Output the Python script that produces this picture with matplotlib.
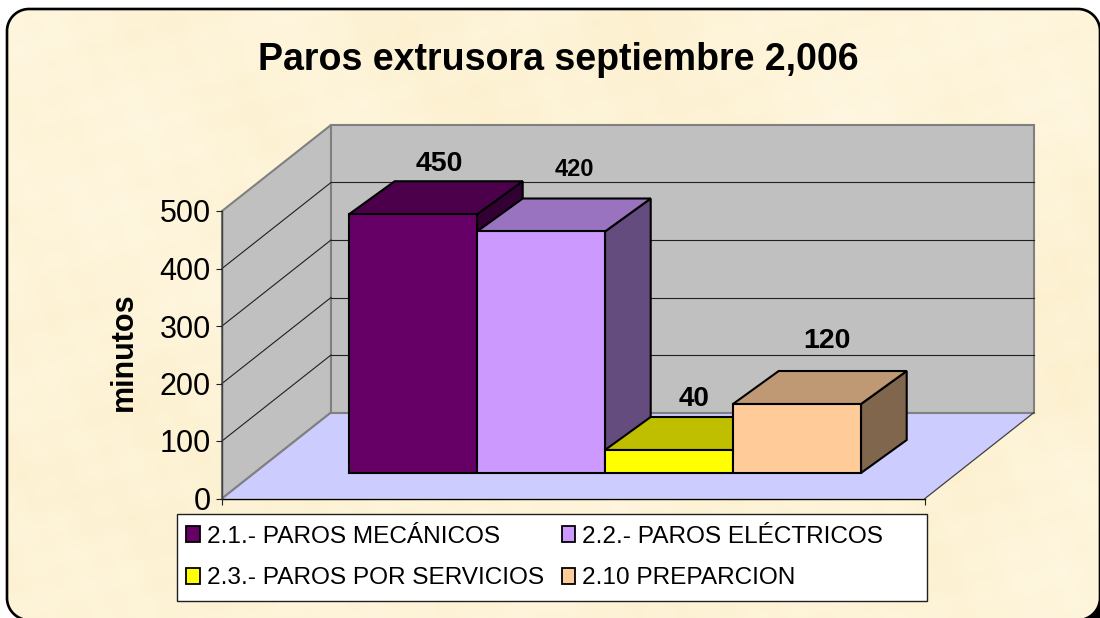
import numpy as np
import matplotlib
matplotlib.use("Agg")
import matplotlib.pyplot as plt
from matplotlib.patches import Polygon, Rectangle, Patch
from matplotlib.transforms import Affine2D

plt.rcParams['font.family'] = ['Liberation Sans', 'DejaVu Sans']

# ---- data ----
series_names = ['2.1.- PAROS MECÁNICOS', '2.2.- PAROS ELÉCTRICOS',
                '2.3.- PAROS POR SERVICIOS', '2.10 PREPARCION']
series_values = [450, 420, 40, 120]
yticks = [0, 100, 200, 300, 400, 500]
title_text = 'Paros extrusora septiembre 2,006'
ylabel_text = 'minutos'

front_colors = ['#660066', '#CC99FF', '#FFFF00', '#FFCC99']
top_colors = ['#4C004C', '#9973BF', '#BFBF00', '#BF9973']
side_colors = ['#330033', '#654C7F', '#7F7F00', '#7F664C']
label_sizes = [20.5, 17, 20, 20.5]
label_offsets = [(-61, 17), (-53.5, 29), (-62, 18), (-56.5, 30)]

W, H = 1100, 618
fig = plt.figure(figsize=(W / 100, H / 100), dpi=100, facecolor='white')

# ---- background ----
bg = fig.add_axes([0, 0, 1, 1], zorder=0)
bg.set_xlim(0, W)
bg.set_ylim(H, 0)
bg.axis('off')
yy, xx = np.mgrid[0:H, 0:W]
tex = (0.30 * np.sin(xx / 37.0 + 1.3 * np.sin(yy / 53.0)) * np.sin(yy / 29.0 + 0.7)
       + 0.30 * np.sin(xx / 71.0 + 2.1) * np.sin(yy / 83.0 + 1.9 * np.sin(xx / 97.0))
       + 0.20 * np.sin(xx / 11.0 + yy / 17.0) * np.sin(yy / 9.0 - xx / 23.0)
       + 0.20 * np.sin((xx + yy) / 131.0))
tex = (tex - tex.min()) / (tex.max() - tex.min())
c0 = np.array([0xFC, 0xF0, 0xCE]) / 255
c1 = np.array([0xFF, 0xF7, 0xE2]) / 255
img = c0[None, None, :] + tex[..., None] * (c1 - c0)[None, None, :]
im = bg.imshow(img, extent=(0, W, H, 0), aspect='auto', zorder=1)


def arc(cx, cy, r, a0, a1):
    t = np.radians(np.linspace(a0, a1, 24))
    return np.column_stack([cx + r * np.cos(t), cy + r * np.sin(t)])


FX0, FX1, FY0, FY1, RAD = 7, 1100, 9, 620, 22
outline = np.vstack([arc(FX0 + RAD, FY0 + RAD, RAD, 180, 270),
                     arc(FX1 - RAD, FY0 + RAD, RAD, 270, 360),
                     arc(FX1 - RAD, FY1 - RAD, RAD, 0, 90),
                     arc(FX0 + RAD, FY1 - RAD, RAD, 90, 180)])
frame = Polygon(outline, closed=True, fc='none', ec='black', lw=1.9, zorder=3, clip_on=False)
bg.add_patch(frame)
im.set_clip_path(frame)
corner = np.vstack([arc(FX1 - RAD, FY1 - RAD, RAD, 0, 90), [[FX1, FY1]]])
bg.add_patch(Polygon(corner, closed=True, fc='black', ec='none', zorder=3, clip_on=False))

# ---- chart front plane: real axes with value scale ----
L, R, BOT, TOP = 222, 925, 498.5, 211
ax = fig.add_axes([L / W, 1 - BOT / H, (R - L) / W, (BOT - TOP) / H], zorder=2)
ax.patch.set_visible(False)
ax.set_xlim(0, R - L)
ax.set_ylim(0, 500)
for s in ax.spines.values():
    s.set_visible(False)


def shifted(dx, dy):
    return ax.transData + Affine2D().translate(dx, dy)


WALL_DX, WALL_DY = 109, 86
wall_t = shifted(WALL_DX, WALL_DY)
GRAY = '#808080'
span = R - L
z = 1

# left wall
ax.add_patch(Polygon([(0, 0), (0, 500), (WALL_DX, 500 + WALL_DY / 0.575), (WALL_DX, WALL_DY / 0.575)],
                     closed=True, fc='#C0C0C0', ec=GRAY, lw=1.5, zorder=z, clip_on=False))
# back wall
ax.add_patch(Rectangle((0, 0), span, 500, transform=wall_t, fc='#C0C0C0', ec=GRAY,
                       lw=1.5, zorder=z, clip_on=False))
# floor
ax.add_patch(Polygon([(0, 0), (span, 0), (span + WALL_DX, WALL_DY / 0.575), (WALL_DX, WALL_DY / 0.575)],
                     closed=True, fc='#CCCCFF', ec='none', zorder=z + 0.1, clip_on=False))
ax.plot([0, WALL_DX], [0, WALL_DY / 0.575], color=GRAY, lw=1.5, zorder=z + 0.2, clip_on=False)
ax.plot([WALL_DX, span + WALL_DX], [WALL_DY / 0.575] * 2, color=GRAY, lw=1.5, zorder=z + 0.2, clip_on=False)
ax.plot([span, span + WALL_DX], [0, WALL_DY / 0.575], color='#404040', lw=0.9, zorder=z + 0.2, clip_on=False)
ax.plot([0, span], [0, 0], color='black', lw=1.0, zorder=z + 0.3, clip_on=False)
ax.plot([0, 0], [0, 500], color='#404040', lw=1.0, zorder=z + 0.3, clip_on=False)

# gridlines
for v in yticks[1:-1]:
    ax.plot([0, span], [v, v], transform=wall_t, color='#202020', lw=0.8, zorder=z + 0.05, clip_on=False)
    ax.plot([0, WALL_DX], [v, v + WALL_DY / 0.575], color='#202020', lw=0.8, zorder=z + 0.05, clip_on=False)

# bars
BAR_W = 128
BAR_X0 = 349 - L - 32.3
FRONT_DX, FRONT_DY = 32.3, 25.5
DEPTH_DX, DEPTH_DY = 45.7, 33
bar_t = shifted(FRONT_DX, FRONT_DY)
dv = DEPTH_DY / 0.575
for i, v in enumerate(series_values):
    x0 = BAR_X0 + i * BAR_W
    x1 = x0 + BAR_W
    zb = 5 + i
    ax.add_patch(Polygon([(x1, 0), (x1, v), (x1 + DEPTH_DX, v + dv), (x1 + DEPTH_DX, dv)], closed=True,
                         transform=bar_t, fc=side_colors[i], ec='black', lw=1.5, joinstyle='miter',
                         zorder=zb, clip_on=False))
    ax.add_patch(Polygon([(x0, v), (x1, v), (x1 + DEPTH_DX, v + dv), (x0 + DEPTH_DX, v + dv)], closed=True,
                         transform=bar_t, fc=top_colors[i], ec='black', lw=1.5, joinstyle='miter',
                         zorder=zb, clip_on=False))
    ax.add_patch(Rectangle((x0, 0), BAR_W, v, transform=bar_t, fc=front_colors[i], ec='black',
                           lw=1.5, joinstyle='miter', zorder=zb + 0.1, clip_on=False))
    ox, oy = label_offsets[i]
    ax.annotate(str(v), xy=(x1 + DEPTH_DX / 2, v + dv), xycoords=bar_t,
                xytext=(ox, oy), textcoords='offset pixels', ha='center', va='center',
                fontsize=label_sizes[i], fontweight='bold', color='black', zorder=20)

# axes furniture
ax.set_yticks(yticks)
ax.set_xticks([0, span])
ax.set_xticklabels(['', ''])
ax.tick_params(axis='y', length=4.5, width=0.8, labelsize=22, pad=3.5, color='#202020')
ax.tick_params(axis='x', length=4.5, width=0.8, color='#202020')
ax.set_ylabel(ylabel_text, fontsize=22, fontweight='bold', labelpad=10)
ax.yaxis.set_label_coords((139 - L) / (R - L), (BOT - 352) / (BOT - TOP))
fig.text(558.5 / W, 1 - 60 / H, title_text, fontsize=27, fontweight='bold', ha='center', va='center')

# legend
fig.add_artist(Rectangle((176.5 / W, 1 - 600.5 / H), 750 / W, 86.5 / H, transform=fig.transFigure,
                         fc='white', ec='#202020', lw=1.0))
order = [0, 2, 1, 3]
handles = [Patch(fc=front_colors[i], ec='black', lw=1.3) for i in order]
labels = [series_names[i] for i in order]
leg = fig.legend(handles, labels, ncols=2, loc='upper left', frameon=False,
                 bbox_to_anchor=(174.5 / W, 1 - 514 / H), bbox_transform=fig.transFigure,
                 fontsize=17.55, handlelength=0.55, handleheight=0.65, handletextpad=0.3,
                 labelspacing=0.8, columnspacing=0.72, borderpad=0.48, borderaxespad=0)
leg.set_zorder(5)

fig.savefig('out.png', dpi=100)
